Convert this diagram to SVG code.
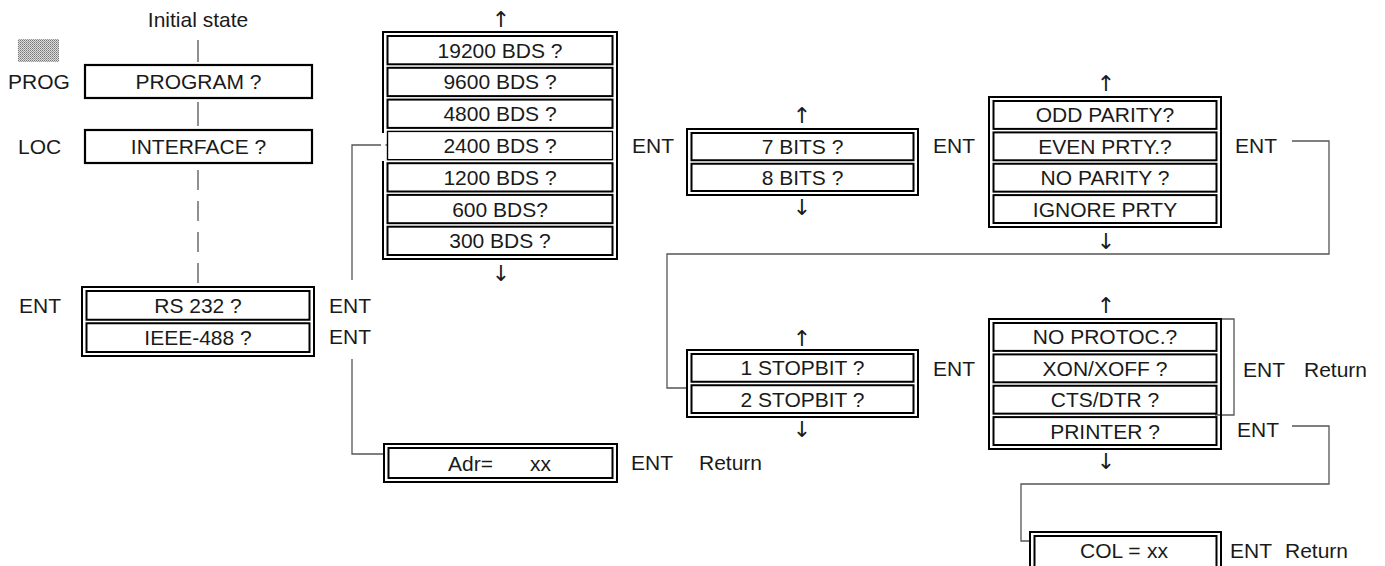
<svg xmlns="http://www.w3.org/2000/svg" width="1385" height="566" viewBox="0 0 1385 566">
<style>
text{font-family:"Liberation Sans",Arial,sans-serif;font-size:21px;fill:#1a1a1a}
.c{text-anchor:middle}
.ar{font-family:"DejaVu Sans",sans-serif;font-size:22px;text-anchor:middle;fill:#1a1a1a}
.ob{fill:none;stroke:#000;stroke-width:2}
.ib{fill:#fff;stroke:#000;stroke-width:2}
.sb{fill:#fff;stroke:#000;stroke-width:2.2}
.ln{fill:none;stroke:#555;stroke-width:1.3}
</style>
<defs>
<pattern id="dots" width="2" height="2" patternUnits="userSpaceOnUse">
<rect width="2" height="2" fill="#ddd"/>
<rect width="1" height="1" fill="#777"/>
<rect x="1" y="1" width="1" height="1" fill="#999"/>
</pattern>
</defs>
<rect width="1385" height="566" fill="#fff"/>

<g id="connectors">
<path class="ln" d="M198 40V62M198 102V126M198 170V190"/>
<path class="ln" d="M198 201V284" stroke-dasharray="20 11"/>
<path class="ln" d="M388 145H352V280M352 359V454H384"/>
<path class="ln" d="M1292 141H1329V254H667V388H687"/>
<path class="ln" d="M1221 319H1234V415H1215"/>
<path class="ln" d="M1292 426H1329V484H1021V541H1030"/>
</g>

<g id="icon"><rect x="18" y="39" width="41" height="23" fill="url(#dots)"/></g>
<g id="initial"><text class="c" x="198" y="27">Initial state</text></g>

<g id="program">
<rect class="sb" x="85" y="65" width="227" height="33"/>
<text x="8" y="89">PROG</text>
<text class="c" x="198.5" y="89">PROGRAM ?</text>
</g>

<g id="interface">
<rect class="sb" x="85" y="130" width="227" height="33"/>
<text x="18" y="154">LOC</text>
<text class="c" x="198.5" y="154">INTERFACE ?</text>
</g>

<g id="iface-select">
<rect class="ob" x="82" y="287" width="232" height="69"/>
<rect class="ib" x="86.5" y="291" width="223" height="28.75"/>
<rect class="ib" x="86.5" y="323.25" width="223" height="28.75"/>
<text class="c" x="198" y="312.5">RS 232 ?</text>
<text class="c" x="198" y="345">IEEE-488 ?</text>
<text x="19" y="312.5">ENT</text>
<text x="329" y="312.5">ENT</text>
<text x="329" y="344">ENT</text>
</g>

<g id="baud">
<text class="ar" x="501" y="27">↑</text>
<rect class="ob" x="383" y="32" width="234" height="227"/>
<rect x="381" y="133" width="4.5" height="28" fill="#fff"/>
<rect class="ib" x="387.5" y="36" width="225" height="28.3"/>
<rect class="ib" x="387.5" y="67.8" width="225" height="28.3"/>
<rect class="ib" x="387.5" y="99.6" width="225" height="28.3"/>
<rect class="ib" x="387.5" y="131.4" width="225" height="28.3" style="stroke-width:1.4"/>
<rect class="ib" x="387.5" y="163.2" width="225" height="28.3"/>
<rect class="ib" x="387.5" y="194.9" width="225" height="28.3"/>
<rect class="ib" x="387.5" y="226.7" width="225" height="28.3"/>
<text class="c" x="500" y="57.6">19200 BDS ?</text>
<text class="c" x="500" y="89.4">9600 BDS ?</text>
<text class="c" x="500" y="121.2">4800 BDS ?</text>
<text class="c" x="500" y="153">2400 BDS ?</text>
<text class="c" x="500" y="184.8">1200 BDS ?</text>
<text class="c" x="500" y="216.6">600 BDS?</text>
<text class="c" x="500" y="248.4">300 BDS ?</text>
<text class="ar" x="501" y="281">↓</text>
<text x="632" y="153">ENT</text>
</g>

<g id="bits">
<text class="ar" x="802" y="123">↑</text>
<rect class="ob" x="687" y="129" width="231" height="66"/>
<rect class="ib" x="691.5" y="133" width="222" height="27.25"/>
<rect class="ib" x="691.5" y="163.75" width="222" height="27.25"/>
<text class="c" x="802.5" y="154">7 BITS ?</text>
<text class="c" x="802.5" y="185">8 BITS ?</text>
<text class="ar" x="802" y="215">↓</text>
<text x="933" y="153">ENT</text>
</g>

<g id="parity">
<text class="ar" x="1106" y="91">↑</text>
<rect class="ob" x="989" y="97" width="232" height="130"/>
<rect class="ib" x="993.5" y="101" width="223" height="27.9"/>
<rect class="ib" x="993.5" y="132.4" width="223" height="27.9"/>
<rect class="ib" x="993.5" y="163.75" width="223" height="27.9"/>
<rect class="ib" x="993.5" y="195.1" width="223" height="27.9"/>
<text class="c" x="1105" y="122.4">ODD PARITY?</text>
<text class="c" x="1105" y="153.8">EVEN PRTY.?</text>
<text class="c" x="1105" y="185.2">NO PARITY ?</text>
<text class="c" x="1105" y="216.6">IGNORE PRTY</text>
<text class="ar" x="1106" y="249">↓</text>
<text x="1235" y="153">ENT</text>
</g>

<g id="stopbit">
<text class="ar" x="802" y="346">↑</text>
<rect class="ob" x="687" y="350" width="231" height="67"/>
<rect class="ib" x="691.5" y="354" width="222" height="27.75"/>
<rect class="ib" x="691.5" y="385.25" width="222" height="27.75"/>
<text class="c" x="802.5" y="375.4">1 STOPBIT ?</text>
<text class="c" x="802.5" y="406.6">2 STOPBIT ?</text>
<text class="ar" x="802" y="437">↓</text>
<text x="933" y="376">ENT</text>
</g>

<g id="protocol">
<text class="ar" x="1106" y="313">↑</text>
<rect class="ob" x="989" y="319" width="232" height="130"/>
<rect class="ib" x="993.5" y="323" width="223" height="27.9"/>
<rect class="ib" x="993.5" y="354.4" width="223" height="27.9"/>
<rect class="ib" x="993.5" y="385.75" width="223" height="27.9"/>
<rect class="ib" x="993.5" y="417.1" width="223" height="27.9"/>
<text class="c" x="1105" y="344.4">NO PROTOC.?</text>
<text class="c" x="1105" y="375.8">XON/XOFF ?</text>
<text class="c" x="1105" y="407.2">CTS/DTR ?</text>
<text class="c" x="1105" y="438.6">PRINTER ?</text>
<text class="ar" x="1106" y="469">↓</text>
<text x="1243" y="377">ENT</text>
<text x="1304" y="377">Return</text>
<text x="1237" y="437">ENT</text>
</g>

<g id="address">
<rect class="ob" x="384" y="444" width="233" height="38"/>
<rect class="ib" x="388.5" y="448" width="224" height="30"/>
<text y="470.5"><tspan x="448">Adr=</tspan><tspan x="530">xx</tspan></text>
<text x="631" y="470">ENT</text>
<text x="699" y="470">Return</text>
</g>

<g id="columns">
<rect class="ob" x="1030" y="532" width="191" height="40"/>
<rect class="ib" x="1034.5" y="536" width="182" height="32"/>
<text y="558"><tspan x="1080">COL =</tspan><tspan x="1147">xx</tspan></text>
<text x="1230" y="558">ENT</text>
<text x="1285" y="558">Return</text>
</g>
</svg>
